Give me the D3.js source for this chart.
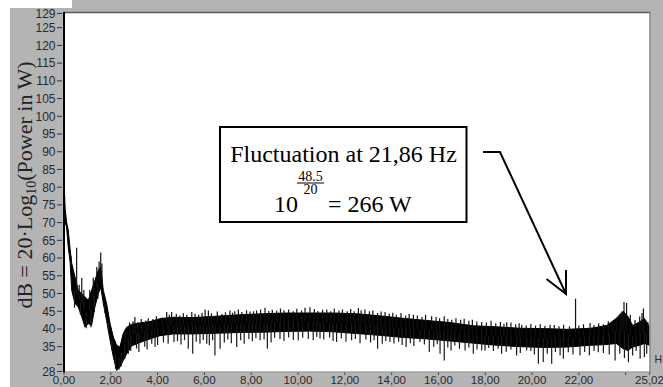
<!DOCTYPE html>
<html><head><meta charset="utf-8">
<script src="https://cdn.jsdelivr.net/npm/d3@7"></script>
<style>html,body{margin:0;padding:0;background:#fff;} svg{display:block}</style>
</head><body><svg id="c" width="663" height="387"></svg>
<script>
// ---- data ----
const envFreq  = [0, 0.05, 0.11, 0.18, 0.26, 0.33, 0.40, 0.47, 0.61, 0.76, 0.90, 1.04, 1.18, 1.32, 1.47, 1.57, 1.68, 1.82, 1.97, 2.11, 2.25, 2.39, 2.53, 2.68, 2.89, 3.25, 3.68, 4.10, 4.67, 5.5, 6.5, 7.5, 8.5, 9.5, 10.5, 11.5, 12.5, 13.5, 14.5, 15.5, 16.5, 17.5, 18.5, 19.5, 20.5, 21.5, 22.5, 23.2, 23.6, 23.9, 24.1, 24.3, 24.6, 24.8, 25.02];
const envUpper = [82, 74, 70.2, 67.9, 62.7, 58.5, 56.6, 54.7, 50.9, 50, 49, 48.1, 50.9, 53.7, 56.6, 57.5, 50.9, 47.2, 41.5, 37.7, 35.4, 34.9, 38.7, 40.5, 41.3, 41.7, 42.1, 42.9, 43.3, 43.2, 43.6, 44.0, 44.3, 44.5, 44.5, 44.5, 44.3, 43.7, 43.0, 42.4, 41.8, 40.9, 40.6, 40.2, 40.1, 39.9, 40.2, 41.0, 43.0, 45.0, 43.5, 41.0, 42.0, 43.0, 40.6];
const envLower = [78, 70, 68.8, 63.2, 58.9, 50.9, 49, 47.2, 46.2, 43.4, 40.5, 41.5, 41, 46.2, 50, 51.8, 47.2, 42.4, 36.8, 32, 28.3, 29.2, 31.1, 33, 35.2, 36.2, 37.2, 38.1, 38.6, 38.6, 38.8, 39.0, 39.1, 39.3, 39.4, 39.2, 38.7, 38.2, 37.6, 37.2, 36.6, 36.0, 35.4, 35.0, 34.8, 34.9, 35.4, 35.6, 35.9, 34.4, 33.9, 34.9, 35.4, 35.9, 35.4];

const upSpikeFreq = [0.30, 0.54, 0.65, 0.76, 0.85, 1.10, 1.25, 1.40, 1.50, 1.57, 1.62,
  2.62, 2.80, 2.95, 3.03, 3.15, 3.30, 3.50, 3.60, 3.80, 3.95, 4.20, 4.39, 4.50, 4.60, 4.80, 4.95, 5.10, 5.25, 5.46, 5.60, 5.75, 5.90, 6.03, 6.17, 6.30, 6.55, 6.75, 6.90,
  7.09, 7.20, 7.30, 7.45, 7.60, 7.80, 7.95, 8.10, 8.23, 8.40, 8.59, 8.75, 8.90, 9.09, 9.25, 9.40, 9.60, 9.80, 9.95, 10.15, 10.30, 10.51, 10.70, 10.85, 11.05, 11.23, 11.40, 11.55, 11.75, 11.90,
  12.10, 12.25, 12.40, 12.58, 12.70, 12.86, 13.05, 13.20, 13.40, 13.55, 13.72, 13.90, 14.05, 14.20, 14.40, 14.60, 14.75, 14.93, 15.10, 15.30, 15.45, 15.71, 15.90, 16.05, 16.25, 16.40, 16.57, 16.75, 16.95,
  17.10, 17.30, 17.45, 17.64, 17.85, 18.05, 18.25, 18.45, 18.65, 18.80, 18.92, 19.10, 19.30, 19.45, 19.56, 19.75, 19.95, 20.15, 20.35, 20.55, 20.77, 20.95, 21.15, 21.35, 21.60, 21.86,
  22.00, 22.20, 22.48, 22.65, 22.85, 23.05, 23.26, 23.45, 23.60, 23.76, 23.85, 23.93, 24.04, 24.20, 24.40, 24.60, 24.70, 24.76, 24.95];
const upSpikeVal  = [60.5, 62.9, 52.5, 54.4, 51.0, 51.0, 54.5, 57.5, 59.0, 61.6, 58.5,
  40.0, 41.8, 42.2, 43.4, 42.0, 42.8, 42.4, 43.0, 42.8, 43.6, 43.2, 44.8, 44.0, 44.8, 44.2, 43.8, 44.4, 44.0, 44.8, 44.3, 44.0, 44.6, 45.5, 45.2, 44.4, 44.9, 44.2, 44.7,
  45.2, 44.6, 45.0, 45.5, 44.8, 45.3, 44.9, 45.0, 45.2, 45.5, 46.0, 45.1, 45.4, 45.2, 45.8, 45.3, 45.5, 45.0, 45.7, 45.2, 46.0, 46.1, 45.6, 45.1, 45.4, 45.5, 45.0, 45.8, 45.2, 45.5,
  45.0, 45.6, 45.0, 45.9, 45.3, 45.5, 45.0, 45.2, 44.5, 44.9, 44.8, 44.3, 44.6, 44.0, 44.5, 43.8, 44.2, 44.0, 43.8, 43.4, 44.0, 43.6, 43.4, 43.0, 43.6, 42.8, 42.6, 43.0, 42.6,
  42.9, 42.3, 42.6, 42.1, 42.0, 41.8, 42.3, 41.6, 42.0, 41.5, 41.9, 41.8, 41.3, 41.6, 41.2, 41.0, 41.4, 41.0, 41.3, 40.9, 41.2, 41.1, 40.8, 41.2, 40.8, 48.5,
  41.0, 41.3, 41.7, 41.1, 41.6, 41.3, 42.2, 41.8, 42.8, 44.3, 45.0, 47.6, 47.3, 44.0, 42.5, 43.5, 44.5, 45.8, 42.0];

const downSpikeFreq = [0.45, 0.70, 0.95, 1.15, 1.30, 1.45, 1.75, 1.90, 2.05, 2.20, 2.35, 2.45,
  2.60, 2.75, 2.85, 3.10, 3.20, 3.45, 3.55, 3.75, 3.89, 4.00, 4.25, 4.45, 4.70, 4.85, 5.00, 5.15, 5.31, 5.50, 5.65, 5.81, 5.95, 6.10, 6.21, 6.35, 6.45, 6.67, 6.85,
  7.00, 7.15, 7.38, 7.55, 7.70, 7.90, 8.05, 8.20, 8.38, 8.55, 8.69, 8.85, 9.00, 9.23, 9.40, 9.60, 9.80, 10.01, 10.20, 10.44, 10.65, 10.80, 10.94, 11.10, 11.35, 11.50, 11.65, 11.85,
  12.05, 12.29, 12.45, 12.65, 12.90, 13.10, 13.25, 13.40, 13.60, 13.75, 13.93, 14.10, 14.30, 14.45, 14.62, 14.80, 14.95, 15.21, 15.40, 15.61, 15.80, 15.95, 16.07, 16.25, 16.40, 16.54, 16.70, 16.90,
  17.14, 17.30, 17.49, 17.65, 17.85, 17.99, 18.15, 18.35, 18.55, 18.70, 18.90, 19.10, 19.34, 19.50, 19.77, 19.95, 20.10, 20.27, 20.48, 20.65, 20.84, 21.00, 21.20, 21.34, 21.55, 21.75,
  22.05, 22.25, 22.45, 22.65, 22.83, 23.05, 23.30, 23.55, 23.75, 23.95, 24.12, 24.30, 24.45, 24.62, 24.80, 24.90];
const downSpikeVal  = [46.0, 44.0, 40.2, 40.5, 44.8, 48.5, 44.5, 39.5, 34.0, 28.8, 28.5, 29.5,
  31.5, 33.0, 33.8, 34.5, 33.5, 35.0, 34.2, 35.8, 34.9, 35.5, 36.2, 35.8, 36.3, 36.5, 35.6, 36.8, 34.4, 33.0, 36.4, 35.8, 36.9, 35.8, 35.4, 36.8, 32.5, 34.4, 36.2,
  37.0, 36.0, 34.9, 36.8, 35.8, 37.2, 36.5, 37.4, 36.8, 37.0, 34.4, 36.2, 37.5, 37.2, 36.6, 37.6, 36.9, 36.8, 37.5, 37.2, 36.8, 37.7, 37.3, 37.0, 37.6, 36.6, 36.3, 37.3,
  36.4, 36.8, 37.2, 36.0, 37.0, 36.2, 36.8, 34.4, 35.8, 36.6, 36.3, 35.9, 36.4, 35.5, 34.9, 36.0, 35.2, 36.3, 35.6, 33.5, 35.0, 35.7, 33.0, 31.1, 34.8, 33.9, 35.3, 34.4,
  33.9, 34.8, 33.0, 34.2, 33.9, 33.9, 34.6, 33.8, 34.4, 33.0, 33.6, 34.2, 32.5, 33.2, 33.9, 33.8, 32.8, 30.2, 30.7, 33.0, 30.2, 33.5, 32.6, 31.6, 33.4, 32.8,
  32.5, 33.5, 32.6, 33.8, 33.4, 33.2, 32.8, 31.1, 33.0, 31.8, 30.6, 32.5, 33.8, 31.6, 32.0, 33.0];

const xTickValues = [0, 2, 4, 6, 8, 10, 12, 14, 16, 18, 20, 22, 24, 25.02];
const xTickLabels = ["0,00", "2,00", "4,00", "6,00", "8,00", "10,00", "12,00", "14,00", "16,00", "18,00", "20,00", "22,00", "", "25,02"];
const yTickValues = [28, 30, 35, 40, 45, 50, 55, 60, 65, 70, 75, 80, 85, 90, 95, 100, 105, 110, 115, 120, 125, 129];
const yTickLabels = ["28", "", "35", "40", "45", "50", "55", "60", "65", "70", "75", "80", "85", "90", "95", "100", "105", "110", "115", "120", "125", "129"];

const annotationLine1 = "Fluctuation at 21,86 Hz";
const annotationBase = "10", annotationNum = "48.5", annotationDen = "20", annotationRest = "= 266 W";
const yTitleA = "dB = 20·Log", yTitleSub = "10", yTitleB = "(Power in W)";
const xUnit = "H";

// ---- layout ----
const W = 663, H = 387;
const L = 64, R = 649.5, T = 13, B = 371.5;
const svg = d3.select("#c");
const x = d3.scaleLinear().domain([0, 25.02]).range([L, R]);
const y = d3.scaleLinear().domain([28, 129]).range([B, T + 0.5]);

svg.append("rect").attr("x", 0).attr("y", 0).attr("width", W).attr("height", H).attr("fill", "#fff");
svg.append("rect").attr("x", 10).attr("y", 0).attr("width", W - 10).attr("height", H).attr("fill", "#b4b4b4");
svg.append("rect").attr("x", 0).attr("y", 0).attr("width", 72).attr("height", 8).attr("fill", "#fff");
svg.append("rect").attr("x", L).attr("y", T).attr("width", R - L).attr("height", B - T).attr("fill", "#fff");

svg.append("clipPath").attr("id", "clip").append("rect")
  .attr("x", L).attr("y", T).attr("width", R - L).attr("height", B - T + 1);
const g = svg.append("g").attr("clip-path", "url(#clip)");

const env = envFreq.map((f, i) => ({f, lo: envLower[i], hi: envUpper[i]}));
g.append("path").datum(env)
  .attr("d", d3.area().x(d => x(d.f)).y0(d => y(d.lo)).y1(d => y(d.hi)))
  .attr("fill", "#000").attr("stroke", "#000").attr("stroke-width", 1);

const bis = d3.bisector(d => d.f).left;
function mid(f) {
  let i = Math.max(1, Math.min(env.length - 1, bis(env, f)));
  const a = env[i - 1], b = env[i];
  const t = (f - a.f) / (b.f - a.f);
  return ((a.lo + a.hi) / 2) * (1 - t) + ((b.lo + b.hi) / 2) * t;
}
g.selectAll(".up").data(upSpikeFreq).enter().append("line")
  .attr("x1", d => x(d)).attr("x2", d => x(d))
  .attr("y1", (d, i) => y(upSpikeVal[i])).attr("y2", d => y(mid(d)))
  .attr("stroke", "#111").attr("stroke-width", 1.2);
g.selectAll(".dn").data(downSpikeFreq).enter().append("line")
  .attr("x1", d => x(d)).attr("x2", d => x(d))
  .attr("y1", d => y(mid(d))).attr("y2", (d, i) => y(downSpikeVal[i]))
  .attr("stroke", "#1a1a1a").attr("stroke-width", 1.2);

// frame
svg.append("line").attr("x1", L).attr("x2", R + 1).attr("y1", T - 0.5).attr("y2", T - 0.5).attr("stroke", "#5a5a5a").attr("stroke-width", 1.5);
svg.append("line").attr("x1", R + 0.5).attr("x2", R + 0.5).attr("y1", T - 1).attr("y2", B + 1).attr("stroke", "#8c8c8c").attr("stroke-width", 1.5);
svg.append("line").attr("x1", L).attr("x2", R + 1).attr("y1", B + 0.5).attr("y2", B + 0.5).attr("stroke", "#9a9a9a").attr("stroke-width", 1);
svg.append("line").attr("x1", L).attr("x2", L).attr("y1", T - 1).attr("y2", B + 1).attr("stroke", "#000").attr("stroke-width", 2);

// y axis ticks
const yt = svg.append("g");
yTickValues.forEach((v, i) => {
  yt.append("line").attr("x1", 57).attr("x2", 62).attr("y1", y(v)).attr("y2", y(v)).attr("stroke", "#333").attr("stroke-width", 1);
  if (yTickLabels[i]) yt.append("text").attr("x", 55.5).attr("y", y(v)).attr("dy", "0.36em")
    .attr("text-anchor", "end").attr("font-family", "Liberation Sans, Arial, sans-serif").attr("font-size", 12)
    .attr("fill", "#2a2a2a").text(yTickLabels[i]);
});
// x axis ticks
const xt = svg.append("g");
xTickValues.forEach((v, i) => {
  xt.append("line").attr("x1", x(v)).attr("x2", x(v)).attr("y1", B + 1).attr("y2", B + 3.5).attr("stroke", "#444").attr("stroke-width", 1);
  if (xTickLabels[i]) xt.append("text").attr("x", x(v)).attr("y", 384.3)
    .attr("text-anchor", "middle").attr("font-family", "Liberation Sans, Arial, sans-serif").attr("font-size", 11.5)
    .attr("fill", "#2a2a2a").text(xTickLabels[i]);
});
svg.append("text").attr("x", 654.5).attr("y", 363).attr("font-family", "Liberation Sans, Arial, sans-serif")
  .attr("font-size", 10.5).attr("fill", "#2a2a2a").text(xUnit);

// y title
const yt2 = svg.append("text").attr("transform", "translate(32,185) rotate(-90)")
  .attr("text-anchor", "middle").attr("font-family", "Liberation Serif, Times New Roman, serif")
  .attr("font-size", 22).attr("fill", "#222");
yt2.append("tspan").text(yTitleA);
yt2.append("tspan").attr("font-size", 14).attr("dy", 4).text(yTitleSub);
yt2.append("tspan").attr("dy", -4).text(yTitleB);

// annotation
const ann = svg.append("g").attr("font-family", "Liberation Serif, Times New Roman, serif").attr("fill", "#000");
ann.append("rect").attr("x", 220).attr("y", 127).attr("width", 246.5).attr("height", 95)
  .attr("fill", "#fff").attr("stroke", "#000").attr("stroke-width", 2);
ann.append("text").attr("x", 343.5).attr("y", 161.5).attr("text-anchor", "middle").attr("font-size", 24).text(annotationLine1);
ann.append("text").attr("x", 274).attr("y", 212).attr("font-size", 24).text(annotationBase);
ann.append("text").attr("x", 310.5).attr("y", 180.5).attr("text-anchor", "middle").attr("font-size", 14).text(annotationNum);
ann.append("line").attr("x1", 297).attr("x2", 324).attr("y1", 183).attr("y2", 183).attr("stroke", "#000").attr("stroke-width", 1);
ann.append("text").attr("x", 310.5).attr("y", 194).attr("text-anchor", "middle").attr("font-size", 14).text(annotationDen);
ann.append("text").attr("x", 328).attr("y", 212).attr("font-size", 24).text(annotationRest);

// arrow
const tipX = 566, tipY = 294;
ann.append("path").attr("d", `M483,152 L500,152 L${tipX},${tipY}`).attr("fill", "none").attr("stroke", "#000").attr("stroke-width", 2);
ann.append("path").attr("d", `M566,270 L${tipX},${tipY} L546.5,279`).attr("fill", "none").attr("stroke", "#000").attr("stroke-width", 2);
</script></body></html>
